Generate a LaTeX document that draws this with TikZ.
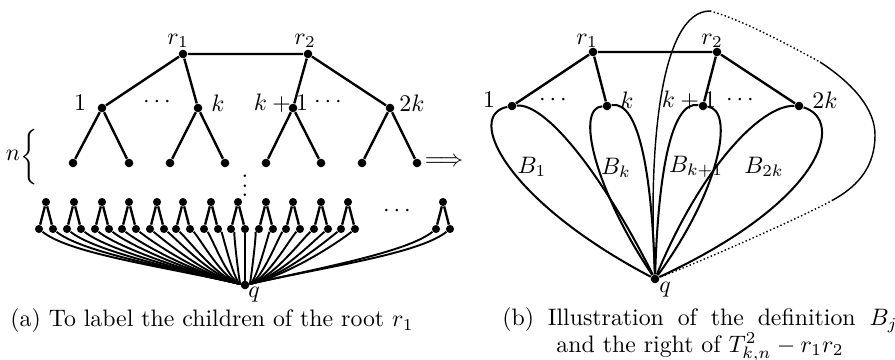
\documentclass[tikz,border=0pt]{standalone}
\usepackage{graphicx}
\usetikzlibrary{calc}
\begin{document}
\begin{tikzpicture}[x=0.42pt,y=-0.42pt,
  dot/.style={circle,fill,inner sep=0pt,minimum size=3.6pt},
  sdot/.style={circle,fill,inner sep=0pt,minimum size=3.4pt},
  edge/.style={line width=1pt},
  fan/.style={line width=0.8pt},
  loopline/.style={line width=0.85pt},
  outer/.style={line width=0.6pt},
  lbl/.style={inner sep=0pt}]
\useasboundingbox (0,0) rectangle (895,360);
% ---------- left picture ----------
\node[dot] (Lr1) at (183,54) {};
\node[dot] (Lr2) at (308,54) {};
\node[dot] (La) at (102,108) {};
\node[dot] (Lb) at (198,108) {};
\node[dot] (Lc) at (293,108) {};
\node[dot] (Ld) at (390,108) {};
\foreach \x [count=\i] in {73,129,170,225,266,321,362,417}
  \node[dot] (Ll\i) at (\x,163) {};
\draw[edge] (Lr1)--(Lr2) (Lr1)--(La) (Lr1)--(Lb) (Lr2)--(Lc) (Lr2)--(Ld)
  (La)--(Ll1) (La)--(Ll2) (Lb)--(Ll3) (Lb)--(Ll4)
  (Lc)--(Ll5) (Lc)--(Ll6) (Ld)--(Ll7) (Ld)--(Ll8);
\node[lbl] (tLr1) at (178,41) {$r_1$};
\node[lbl] (tLr2) at (305,41) {$r_2$};
\node[lbl] (tLa) at (80,103) {$1$};
\node[lbl] (tLd1) at (157,102) {$\cdots$};
\node[lbl] (tLb) at (218,103) {$k$};
\node[lbl] (tLc) at (281,103) {$k+1$};
\node[lbl] (tLd2) at (328,102) {$\cdots$};
\node[lbl] (tLd) at (412,103) {$2k$};
\node[lbl] (tn) at (13,155) {$n$};
\node[lbl] (tbr) at (29,157) {\scalebox{1.1}[1.3]{$\Big\{$}};
\node[lbl] (arr) at (444,162) {$\Longrightarrow$};
\node[lbl] (vd) at (245,179) {$\vdots$};
\node[lbl] (hd) at (397,211) {$\cdots$};
\node[dot] (Lq) at (245,285) {};
\node[lbl] (tLq) at (254,295) {$q$};
\foreach \a [count=\i] in {46,74,102,129,157,183,211,238,266,293,321,348,443} {
  \node[sdot] (TA\i) at (\a,202) {};
  \node[sdot] (TB\i) at (\a-7,229) {};
  \node[sdot] (TC\i) at (\a+7,229) {};
  \draw[edge] (TA\i)--(TB\i) (TA\i)--(TC\i);
  \foreach \s/\nm in {-7/TB,7/TC} {
    \pgfmathsetmacro\dd{245-(\a+\s)}
    \pgfmathsetmacro\ad{abs(\dd)}
    \pgfmathsetmacro\ux{0.15*\dd}
    \pgfmathsetmacro\uy{0.12*\ad}
    \pgfmathsetmacro\vx{-0.4*\dd}
    \pgfmathsetmacro\vy{-0.09*\ad}
    \draw[fan] (\nm\i) .. controls +(\ux,\uy) and +(\vx,\vy) .. (Lq);
  }
}
\node[lbl] (capa) at (212,321) {(a) To label the children of the root $r_1$};
% ---------- right picture ----------
\node[dot] (Rr1) at (593,52) {};
\node[dot] (Rr2) at (717,52) {};
\node[dot] (Ra) at (512,106) {};
\node[dot] (Rb) at (607,106) {};
\node[dot] (Rc) at (703,106) {};
\node[dot] (Rd) at (799,106) {};
\node[dot] (Rq) at (655,279) {};
\draw[edge] (Rr1)--(Rr2) (Rr1)--(Ra) (Rr1)--(Rb) (Rr2)--(Rc) (Rr2)--(Rd);
\draw[loopline] (Ra) .. controls +(-47,9) and +(-150,-79) .. (Rq);
\draw[loopline] (Ra) .. controls +(33,-3) and +(-55,-109) .. (Rq);
\draw[loopline] (Rb) .. controls +(-32,2) and +(-60,-89) .. (Rq);
\draw[loopline] (Rb) .. controls +(33,-6) and +(-3,-99) .. (Rq);
\draw[loopline] (Rc) .. controls +(-33,-6) and +(3,-99) .. (Rq);
\draw[loopline] (Rc) .. controls +(32,4) and +(65,-89) .. (Rq);
\draw[loopline] (Rd) .. controls +(-39,-1) and +(45,-109) .. (Rq);
\draw[loopline] (Rd) .. controls +(46,14) and +(170,-79) .. (Rq);
\coordinate (Ot) at (710,11);
\coordinate (Op) at (820,62);
\coordinate (Oe) at (875,135);
\coordinate (Os) at (833,200);
\draw[outer] (Rq) .. controls +(-7,-129) and +(-50,0) .. (Ot);
\draw[outer,densely dotted] (Ot) .. controls +(30,8) and +(-35,-19) .. (Op);
\draw[outer] (Op) .. controls +(35,23) and +(0,-25) .. (Oe)
  .. controls +(0,30) and +(27,-15) .. (Os);
\draw[outer,densely dotted] (Os) .. controls +(-33,18) and +(45,-17) .. (Rq);
\node[lbl] (tRr1) at (587,41) {$r_1$};
\node[lbl] (tRr2) at (712,41) {$r_2$};
\node[lbl] (tRa) at (489,100) {$1$};
\node[lbl] (tRd1) at (553,100) {$\cdots$};
\node[lbl] (tRb) at (627,100) {$k$};
\node[lbl] (tRc) at (689,100) {$k+1$};
\node[lbl] (tRd2) at (740,100) {$\cdots$};
\node[lbl] (tRd) at (825,100) {$2k$};
\node[lbl] (tRq) at (665,290) {$q$};
\node[lbl] (B1) at (532,167) {$B_1$};
\node[lbl] (Bk) at (616,168) {$B_k$};
\node[lbl] (Bk1) at (696,167) {$B_{k+1}$};
\node[lbl] (B2k) at (764,167) {$B_{2k}$};
\node[lbl,align=center] (capb) at (700,335) {\makebox[166pt][s]{(b) Illustration of the definition $B_j$}\\[-1pt] and the right of $T^2_{k,n}-r_1r_2$};
\end{tikzpicture}
\end{document}
